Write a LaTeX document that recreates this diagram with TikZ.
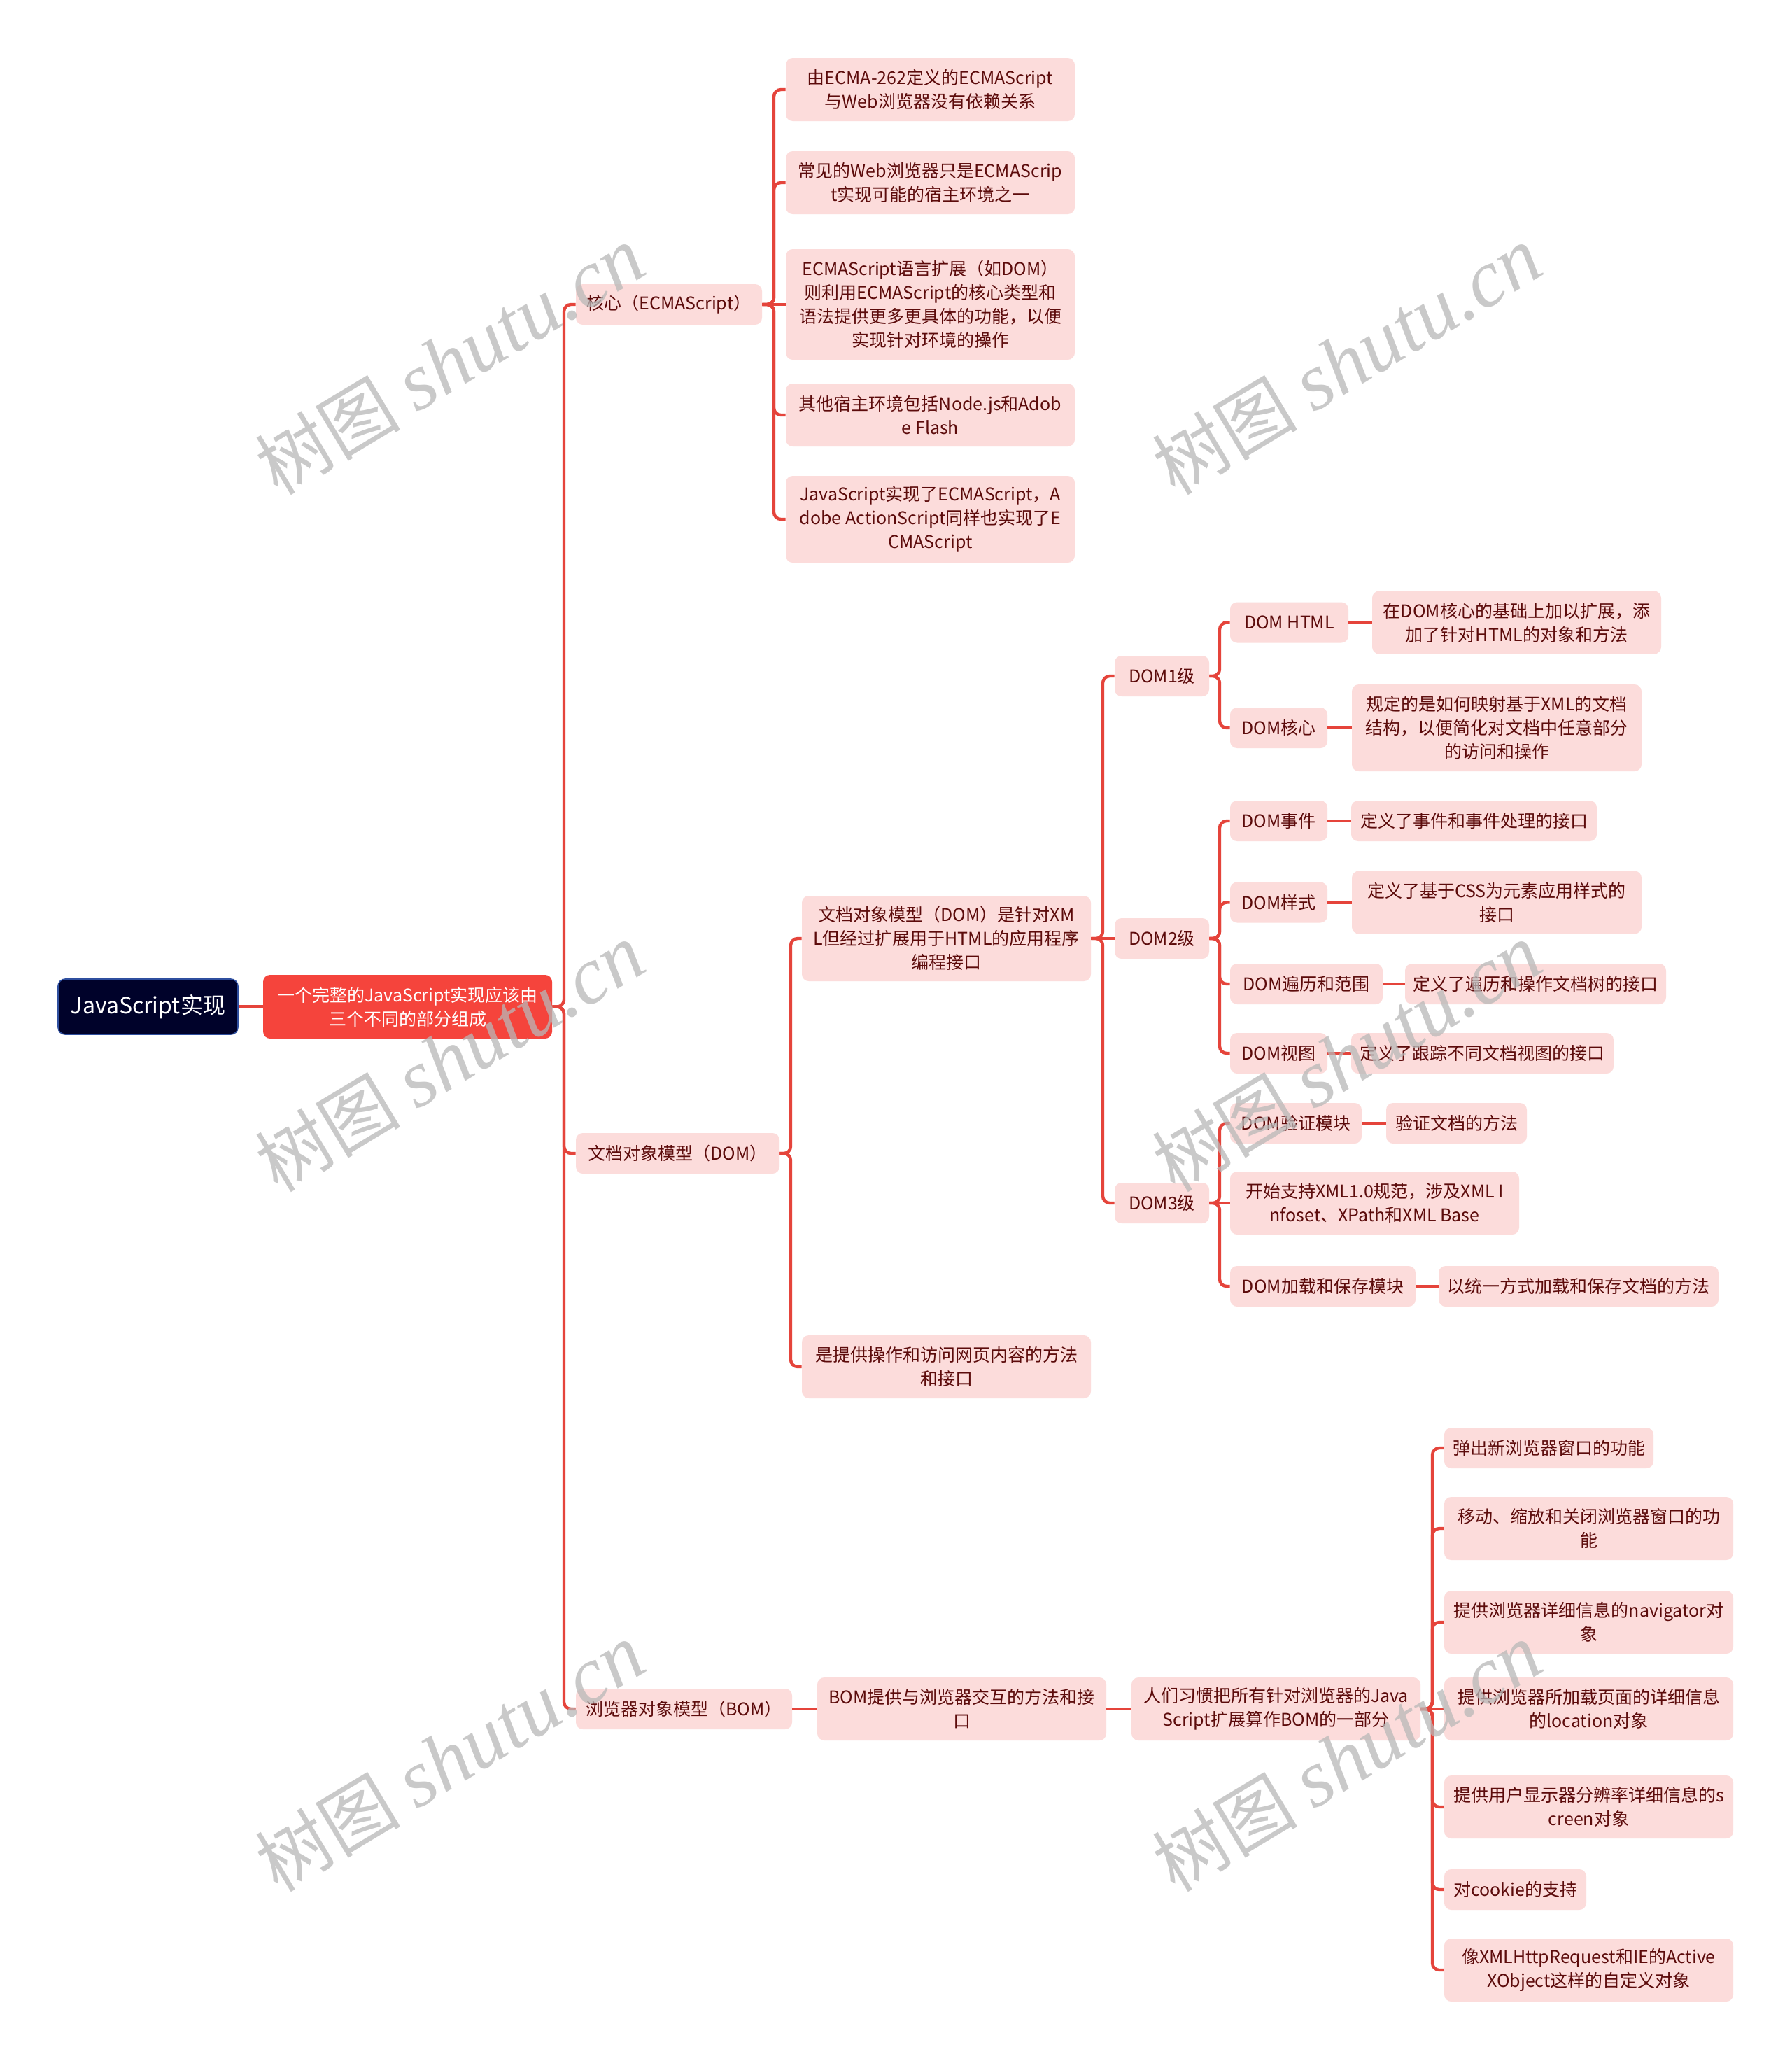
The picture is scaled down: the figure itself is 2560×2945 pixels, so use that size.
\documentclass[tikz,border=0pt]{standalone}
\usepackage{fontspec}
\setmainfont{Noto Sans CJK SC}
\newfontfamily\wmlat{Liberation Serif}
\usetikzlibrary{calc}
\definecolor{pinkfill}{HTML}{FCDCDB}
\definecolor{txtred}{HTML}{5C0B0B}
\definecolor{linered}{HTML}{E5443B}
\definecolor{rednode}{HTML}{F5443C}
\definecolor{navy}{HTML}{00022A}
\definecolor{navyborder}{HTML}{2F4F9F}
\newcommand\MB[6]{\node[box, minimum width=#4pt, minimum height=#5pt] (#1) at (#2,#3) {#6};}
\newcommand\BR[2]{\draw[cn] (#1.east) -| ($(#1.east)!.5!(#2.west)$) |- (#2.west);}
\newcommand\ST[2]{\draw[cn] (#1.east) -- (#2.west);}
\begin{document}
\begin{tikzpicture}[x=0.5pt,y=-0.5pt,
 box/.style={rectangle, rounded corners=5pt, fill=pinkfill, text=txtred, font=\fontsize{12.5}{17}\selectfont, align=center, inner sep=0pt},
 cn/.style={draw=linered, line width=2.2pt, rounded corners=5pt},
 wm/.style={text=black!28, text opacity=0.75, rotate=31, font=\fontsize{52}{60}\selectfont, inner sep=0pt}]
\useasboundingbox[fill=white] (0,0) rectangle (2560,2945);

% root and first level
\node[rectangle, rounded corners=5pt, fill=navy, draw=navyborder, line width=0.8pt, text=white, font=\fontsize{16}{20}\selectfont, minimum width=128.5pt, minimum height=39.5pt, inner sep=0pt] (root) at (211.5,1438.5) {JavaScript实现};
\node[rectangle, rounded corners=5pt, fill=rednode, text=white, font=\fontsize{12.5}{17}\selectfont, align=center, minimum width=206.5pt, minimum height=45.5pt, inner sep=0pt] (red) at (582.5,1438.5) {一个完整的JavaScript实现应该由\\三个不同的部分组成};

% level 2
\MB{k}{956}{435}{133}{29}{核心（ECMAScript）}
\MB{d}{968.5}{1648}{145.5}{29}{文档对象模型（DOM）}
\MB{b}{977.5}{2442}{154.5}{29}{浏览器对象模型（BOM）}

% ECMAScript children
\MB{k1}{1329.5}{128}{206.5}{45}{由ECMA-262定义的ECMAScript\\与Web浏览器没有依赖关系}
\MB{k2}{1329.5}{261}{206.5}{45}{常见的Web浏览器只是ECMAScrip\\t实现可能的宿主环境之一}
\MB{k3}{1329.5}{435}{206.5}{79}{ECMAScript语言扩展（如DOM）\\则利用ECMAScript的核心类型和\\语法提供更多更具体的功能，以便\\实现针对环境的操作}
\MB{k4}{1329.5}{593}{206.5}{45}{其他宿主环境包括Node.js和Adob\\e Flash}
\MB{k5}{1329.5}{742}{206.5}{62}{JavaScript实现了ECMAScript，A\\dobe ActionScript同样也实现了E\\CMAScript}

% DOM children
\MB{d1}{1352.5}{1341}{206.5}{61}{文档对象模型（DOM）是针对XM\\L但经过扩展用于HTML的应用程序\\编程接口}
\MB{d2}{1352.5}{1953}{206.5}{45}{是提供操作和访问网页内容的方法\\和接口}

\MB{L1}{1660.5}{966}{67.5}{29}{DOM1级}
\MB{L2}{1660.5}{1341}{67.5}{29}{DOM2级}
\MB{L3}{1660.5}{1719}{67.5}{29}{DOM3级}

\MB{dh}{1842.5}{889.5}{84.5}{29}{DOM HTML}
\MB{dhx}{2167.5}{889.5}{206.5}{45}{在DOM核心的基础上加以扩展，添\\加了针对HTML的对象和方法}
\MB{dc}{1827.5}{1040}{69.5}{29}{DOM核心}
\MB{dcx}{2139}{1040}{207}{62}{规定的是如何映射基于XML的文档\\结构，以便简化对文档中任意部分\\的访问和操作}

\MB{e1}{1827.5}{1173}{69.5}{29}{DOM事件}
\MB{e1x}{2106.5}{1173}{175.5}{29}{定义了事件和事件处理的接口}
\MB{e2}{1827.5}{1289.5}{69.5}{29}{DOM样式}
\MB{e2x}{2139}{1289.5}{207}{45}{定义了基于CSS为元素应用样式的\\接口}
\MB{e3}{1867}{1406}{109}{29}{DOM遍历和范围}
\MB{e3x}{2194.5}{1406}{186.5}{29}{定义了遍历和操作文档树的接口}
\MB{e4}{1827.5}{1505}{69.5}{29}{DOM视图}
\MB{e4x}{2118.5}{1505}{187.5}{29}{定义了跟踪不同文档视图的接口}

\MB{f1}{1852}{1605}{94}{29}{DOM验证模块}
\MB{f1x}{2081.5}{1605}{100.5}{29}{验证文档的方法}
\MB{f2}{1964.5}{1719}{206.5}{45}{开始支持XML1.0规范，涉及XML I\\nfoset、XPath和XML Base}
\MB{f3}{1890.5}{1838}{132.5}{29}{DOM加载和保存模块}
\MB{f3x}{2256}{1838}{200}{29}{以统一方式加载和保存文档的方法}

% BOM children
\MB{b1}{1374.5}{2442}{206.5}{45}{BOM提供与浏览器交互的方法和接\\口}
\MB{b2}{1823.5}{2442}{206.5}{45}{人们习惯把所有针对浏览器的Java\\Script扩展算作BOM的一部分}
\MB{g1}{2213.5}{2069}{149.5}{29}{弹出新浏览器窗口的功能}
\MB{g2}{2270.5}{2184}{206.5}{45}{移动、缩放和关闭浏览器窗口的功\\能}
\MB{g3}{2270.5}{2318}{206.5}{45}{提供浏览器详细信息的navigator对\\象}
\MB{g4}{2270.5}{2442}{206.5}{45}{提供浏览器所加载页面的详细信息\\的location对象}
\MB{g5}{2270.5}{2582}{206.5}{45}{提供用户显示器分辨率详细信息的s\\creen对象}
\MB{g6}{2165.5}{2700}{101.5}{29}{对cookie的支持}
\MB{g7}{2270.5}{2815}{206.5}{45}{像XMLHttpRequest和IE的Active\\XObject这样的自定义对象}

% connectors
\ST{root}{red}
\BR{red}{k}\BR{red}{d}\BR{red}{b}
\BR{k}{k1}\BR{k}{k2}\ST{k}{k3}\BR{k}{k4}\BR{k}{k5}
\BR{d}{d1}\BR{d}{d2}
\BR{d1}{L1}\ST{d1}{L2}\BR{d1}{L3}
\BR{L1}{dh}\BR{L1}{dc}\ST{dh}{dhx}\ST{dc}{dcx}
\BR{L2}{e1}\BR{L2}{e2}\BR{L2}{e3}\BR{L2}{e4}
\ST{e1}{e1x}\ST{e2}{e2x}\ST{e3}{e3x}\ST{e4}{e4x}
\BR{L3}{f1}\ST{L3}{f2}\BR{L3}{f3}
\ST{f1}{f1x}\ST{f3}{f3x}
\ST{b}{b1}\ST{b1}{b2}
\BR{b2}{g1}\BR{b2}{g2}\BR{b2}{g3}\ST{b2}{g4}\BR{b2}{g5}\BR{b2}{g6}\BR{b2}{g7}

% watermarks
\node[wm] (w1) at (643,516) {树图 {\wmlat\itshape\fontsize{58}{60}\selectfont shutu.cn}};
\node[wm] (w2) at (1925,516) {树图 {\wmlat\itshape\fontsize{58}{60}\selectfont shutu.cn}};
\node[wm] (w3) at (643,1512) {树图 {\wmlat\itshape\fontsize{58}{60}\selectfont shutu.cn}};
\node[wm] (w4) at (1925,1512) {树图 {\wmlat\itshape\fontsize{58}{60}\selectfont shutu.cn}};
\node[wm] (w5) at (643,2512) {树图 {\wmlat\itshape\fontsize{58}{60}\selectfont shutu.cn}};
\node[wm] (w6) at (1925,2512) {树图 {\wmlat\itshape\fontsize{58}{60}\selectfont shutu.cn}};
\end{tikzpicture}
\end{document}
